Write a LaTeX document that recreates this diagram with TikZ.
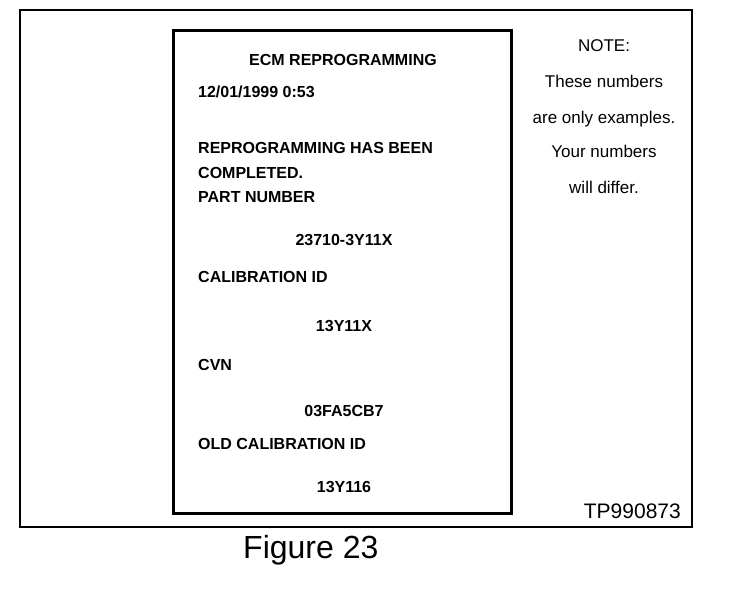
\documentclass[tikz,border=0pt]{standalone}
\usepackage{fontspec}
\setmainfont{Liberation Sans}
\usetikzlibrary{positioning}
\tikzstyle{frame} = [draw=black, line width=2pt]
\tikzstyle{printout} = [rectangle, draw=black, line width=3pt, minimum width=338pt, minimum height=483pt, inner sep=0pt]
\tikzstyle{prline} = [anchor=base west, inner sep=0pt, font=\fontsize{16}{19}\selectfont\bfseries]
\tikzstyle{prvalue} = [anchor=base, inner sep=0pt, font=\fontsize{16}{19}\selectfont\bfseries]
\tikzstyle{notetext} = [anchor=base, inner sep=0pt, font=\fontsize{17}{20}\selectfont]
\begin{document}
\begin{tikzpicture}[x=1pt, y=-1pt]
\useasboundingbox (0,0) rectangle (736,592);
\draw [frame] (20,10) rectangle (692,527);
\node (sheet) [printout, anchor=north west] at (172,29) {};

\node (title) [prvalue] at (343,65) {ECM REPROGRAMMING};
\node (date) [prline] at (198,97) {12/01/1999 0:53};
\node (done) [prline] at (198,153) {REPROGRAMMING HAS BEEN};
\node (donetwo) [prline] at (198,178) {COMPLETED.};
\node (partlbl) [prline] at (198,202) {PART NUMBER};
\node (partno) [prvalue] at (344,245) {23710-3Y11X};
\node (callbl) [prline] at (198,282) {CALIBRATION ID};
\node (calid) [prvalue] at (344,331) {13Y11X};
\node (cvnlbl) [prline] at (198,370) {CVN};
\node (cvn) [prvalue] at (344,416) {03FA5CB7};
\node (oldlbl) [prline] at (198,449) {OLD CALIBRATION ID};
\node (oldid) [prvalue] at (344,492) {13Y116};

\node (note) [notetext] at (604,51) {NOTE:};
\node (noteone) [notetext] at (604,87) {These numbers};
\node (notetwo) [notetext] at (604,123) {are only examples.};
\node (notethree) [notetext] at (604,157) {Your numbers};
\node (notefour) [notetext] at (604,193) {will differ.};

\node (tpno) [anchor=base east, inner sep=0pt, font=\fontsize{21}{25}\selectfont] at (681,518) {TP990873};
\node (caption) [anchor=base west, inner sep=0pt, font=\fontsize{32}{38}\selectfont] at (243,558) {Figure 23};
\end{tikzpicture}
\end{document}
